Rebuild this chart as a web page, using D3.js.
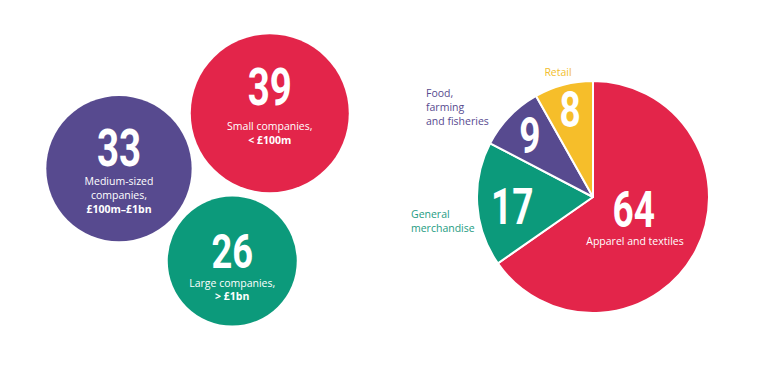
<!DOCTYPE html>
<html>
<head>
<meta charset="utf-8">
<script src="https://cdn.jsdelivr.net/npm/d3@7/dist/d3.min.js"></script>
<style>
  html, body { margin: 0; padding: 0; background: #fff; }
  svg { display: block; }
  .num { font-family: Roboto, "Liberation Sans", sans-serif; font-weight: 700; fill: #fff; }
  .lbl { font-family: "Open Sans", "Noto Sans", sans-serif; font-size: 10.5px; }
</style>
</head>
<body>
<svg id="chart" width="767" height="375"></svg>
<script>
// ---------- DATA ----------
const bubbleValues = [39, 33, 26];
const bubbleLines = [
  ["Small companies,", "< £100m"],
  ["Medium-sized", "companies,", "£100m–£1bn"],
  ["Large companies,", "> £1bn"]
];
const bubbleColors = ["#E3254A", "#574A8F", "#0C9A7B"];

const pieCategories = ["Apparel and textiles", "General merchandise", "Food, farming and fisheries", "Retail"];
const pieValues = [64, 17, 9, 8];
const pieColors = ["#E3254A", "#0C9A7B", "#574A8F", "#F6BE2A"];
const pieLabelLines = [["Apparel and textiles"], ["General", "merchandise"], ["Food,", "farming", "and fisheries"], ["Retail"]];
const pieLabelColors = ["#ffffff", "#1E9C82", "#574A8F", "#F2BE2E"];

// ---------- LAYOUT ----------
const svg = d3.select("#chart");
const numScaleX = 0.74;

// Bubbles: area-proportional radii, packed with d3.packSiblings
const rScale = d3.scaleSqrt().domain([0, d3.max(bubbleValues)]).range([0, 79]);
const pad = 4.5;
const nodes = bubbleValues.map((v, i) => ({ i, v, rr: rScale(v), r: rScale(v) + pad }));
d3.packSiblings(nodes);
const targetAng = Math.atan2(55.5, -151);
let ang = Math.atan2(nodes[1].y - nodes[0].y, nodes[1].x - nodes[0].x);
const cross = (nodes[1].x - nodes[0].x) * (nodes[2].y - nodes[0].y) - (nodes[1].y - nodes[0].y) * (nodes[2].x - nodes[0].x);
if (cross > 0) { nodes.forEach(n => n.y = -n.y); ang = -ang; }
const rot = targetAng - ang;
nodes.forEach(n => {
  const x = n.x * Math.cos(rot) - n.y * Math.sin(rot);
  const y = n.x * Math.sin(rot) + n.y * Math.cos(rot);
  n.x = x; n.y = y;
});
const cxm = d3.mean(nodes, n => n.x), cym = d3.mean(nodes, n => n.y);
const bubbleCentroid = [207, 181];

const bubbleText = [
  { num: -8, size: 52, lines: 16.5 },
  { num: -2.5, size: 52, lines: 16.5 },
  { num: 7, size: 49, lines: 25.5 }
];

const bg = svg.append("g").attr("transform", `translate(${bubbleCentroid[0] - cxm},${bubbleCentroid[1] - cym})`);
const bub = bg.selectAll("g.bubble").data(nodes).join("g")
  .attr("class", "bubble")
  .attr("transform", d => `translate(${d.x},${d.y})`);
bub.append("circle").attr("r", d => d.rr).attr("fill", d => bubbleColors[d.i]);
bub.append("text").attr("class", "num")
  .attr("text-anchor", "middle")
  .attr("transform", d => `translate(0,${bubbleText[d.i].num}) scale(${numScaleX},1)`)
  .style("font-size", d => bubbleText[d.i].size + "px")
  .text(d => d.v);
bub.each(function (d) {
  const t = d3.select(this).append("text").attr("class", "lbl").attr("text-anchor", "middle").attr("fill", "#fff");
  const lines = bubbleLines[d.i];
  lines.forEach((ln, k) => {
    t.append("tspan").attr("x", 0).attr("y", bubbleText[d.i].lines + k * 13.8)
      .style("font-weight", k === lines.length - 1 && /£/.test(ln) ? 700 : 400)
      .text(ln);
  });
});

// Pie
const pieCenter = [593, 197];
const R = 116;
const pie = d3.pie().sort(null).value(d => d);
const arcs = pie(pieValues);
const arc = d3.arc().innerRadius(0).outerRadius(R);
const pg = svg.append("g").attr("transform", `translate(${pieCenter[0]},${pieCenter[1]})`);
pg.selectAll("path").data(arcs).join("path")
  .attr("d", arc)
  .attr("fill", (d, i) => pieColors[i])
  .attr("stroke", "#fff").attr("stroke-width", 2).attr("stroke-linejoin", "round");

const numR = [46, 81, 88, 90];
const numDy = [9, 22, 17, 17];
pg.selectAll("text.pnum").data(arcs).join("text")
  .attr("class", "num pnum")
  .attr("text-anchor", "middle")
  .style("font-size", "50px")
  .attr("transform", (d, i) => {
    const c = d3.arc().innerRadius(numR[i]).outerRadius(numR[i]).centroid(d);
    return `translate(${c[0]},${c[1] + numDy[i]}) scale(${numScaleX},1)`;
  })
  .text(d => d.data);

const labelPos = [
  { x: 42, y: 48, anchor: "middle" },
  { x: -182, y: 21, anchor: "start" },
  { x: -167, y: -100, anchor: "start" },
  { x: -35, y: -121, anchor: "middle" }
];
pieLabelLines.forEach((lines, i) => {
  const t = pg.append("text").attr("class", "lbl")
    .attr("text-anchor", labelPos[i].anchor)
    .attr("fill", pieLabelColors[i]);
  lines.forEach((ln, k) => {
    t.append("tspan").attr("x", labelPos[i].x).attr("y", labelPos[i].y + k * 13.8).text(ln);
  });
});
</script>
</body>
</html>
